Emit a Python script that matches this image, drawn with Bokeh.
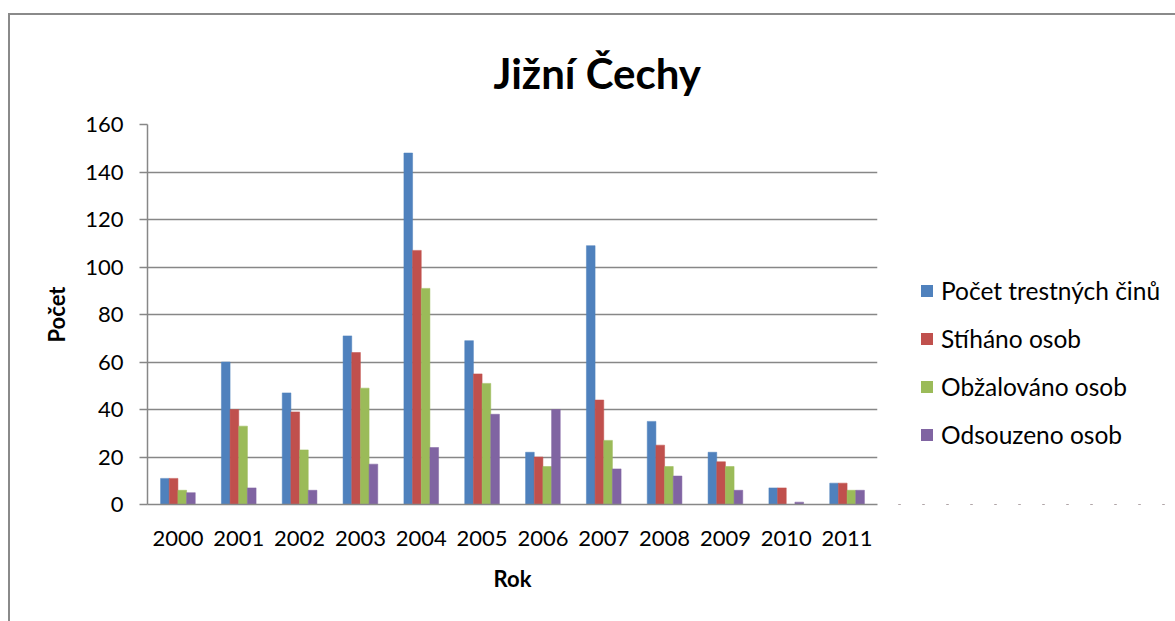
from bokeh.plotting import figure
from bokeh.models import (FactorRange, Legend, LegendItem, ColumnDataSource, FixedTicker,
                          Title, Range1d)
from bokeh.layouts import row
from bokeh.transform import dodge
from bokeh.embed import file_html
from bokeh.resources import INLINE

years = ["2000", "2001", "2002", "2003", "2004", "2005", "2006", "2007", "2008", "2009", "2010", "2011"]
pocet_cinu = [11, 60, 47, 71, 148, 69, 22, 109, 35, 22, 7, 9]
stihano = [11, 40, 39, 64, 107, 55, 20, 44, 25, 18, 7, 9]
obzalovano = [6, 33, 23, 49, 91, 51, 16, 27, 16, 16, 0, 6]
odsouzeno = [5, 7, 6, 17, 24, 38, 40, 15, 12, 6, 1, 6]
series_names = ["Počet trestných činů", "Stíháno osob", "Obžalováno osob", "Odsouzeno osob"]
y_ticks = [0, 20, 40, 60, 80, 100, 120, 140, 160]
title_text = "Jižní Čechy"
x_title = "Rok"
y_title = "Počet"

colors = ["#4F81BD", "#C0504D", "#9BBB59", "#8064A2"]
FONT = "Lato"
GRAY = "#878787"

src = ColumnDataSource(dict(year=years, s0=pocet_cinu, s1=stihano, s2=obzalovano, s3=odsouzeno))
cols = ["s0", "s1", "s2", "s3"]

H = 606
WP = 877
WL = 288
p = figure(x_range=FactorRange(*years), y_range=(0, 160), width=WP, height=H,
           output_backend="svg", toolbar_location=None,
           min_border_left=137, min_border_right=10, min_border_top=109, min_border_bottom=117)
p.outline_line_color = None
p.background_fill_color = "white"
p.border_fill_color = "white"

# title
title = Title(text=title_text, text_font=FONT, text_font_size="42px", text_font_style="bold",
              text_color="black", align="left", offset=346, standoff=54, vertical_align="bottom")
p.add_layout(title, "above")

bw = 0.1425
offsets = [-1.5 * bw, -0.5 * bw, 0.5 * bw, 1.5 * bw]
for i, (col, c) in enumerate(zip(cols, colors)):
    p.vbar(x=dodge("year", offsets[i], range=p.x_range), top=col, width=bw, source=src,
           fill_color=c, line_color=c, line_width=0.5)

# axes
yax = p.left[0]
yax.ticker = FixedTicker(ticks=y_ticks)
yax.major_tick_out = 8
yax.major_tick_in = 0
yax.minor_tick_line_color = None
yax.major_tick_line_color = GRAY
yax.major_tick_line_width = 1.5
yax.axis_line_color = GRAY
yax.axis_line_width = 1.5
yax.major_label_standoff = 16
yax.axis_label = y_title
yax.axis_label_standoff = 12

xax = p.below[0]
xax.major_tick_line_color = None
xax.major_tick_out = 0
xax.minor_tick_line_color = None
xax.axis_line_color = GRAY
xax.axis_line_width = 1.5
xax.major_label_standoff = 26
xax.axis_label = x_title
xax.axis_label_standoff = 16

for ax in (xax, yax):
    ax.major_label_text_font = FONT
    ax.major_label_text_font_size = "22px"
    ax.major_label_text_color = "black"
    ax.axis_label_text_font = FONT
    ax.axis_label_text_font_size = "22px"
    ax.axis_label_text_font_style = "bold"
    ax.axis_label_text_color = "black"

p.xgrid.grid_line_color = None
p.ygrid.grid_line_color = GRAY
p.ygrid.grid_line_width = 1.5

# legend panel (its series drawn out of view so only the legend shows)
pl = figure(width=WL, height=H, output_backend="svg", toolbar_location=None,
            x_range=FactorRange(*years), y_range=Range1d(1000, 1001),
            min_border_left=0, min_border_right=0, min_border_top=0, min_border_bottom=0)
pl.axis.visible = False
pl.grid.visible = False
pl.outline_line_color = None
pl.background_fill_color = "white"
pl.border_fill_color = "white"
items = []
for name, col, c in zip(series_names, cols, colors):
    r = pl.vbar(x="year", top=col, width=0.1, source=src, fill_color=c, line_color=None)
    items.append(LegendItem(label=name, renderers=[r]))
legend = Legend(items=items, location=(32, 55), padding=0, margin=0,
                glyph_width=15, glyph_height=15, label_standoff=7, spacing=18, label_height=30,
                label_text_font=FONT, label_text_font_size="24.5px", label_text_color="black",
                border_line_color=None, background_fill_alpha=0)
pl.add_layout(legend, "center")

layout = row(p, pl, spacing=0)
layout.styles = {"border-top": "2px solid #8a8a8a", "border-left": "2px solid #8a8a8a",
                 "margin-top": "13px", "margin-left": "8px"}

open("out.html", "w").write(file_html(layout, INLINE))
